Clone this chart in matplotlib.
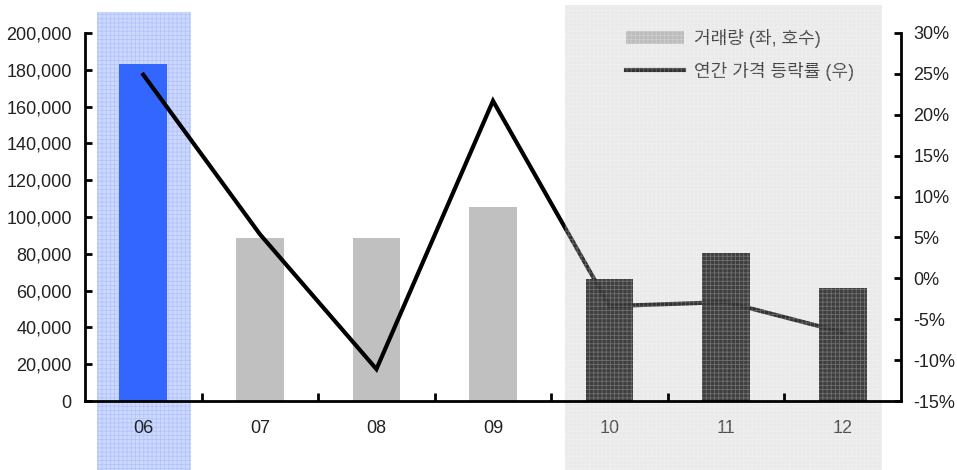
import matplotlib
matplotlib.use("Agg")
import matplotlib.pyplot as plt
from matplotlib.patches import Rectangle, Patch
from matplotlib.lines import Line2D
from matplotlib.ticker import FuncFormatter, FixedLocator, FixedFormatter, NullFormatter

plt.rcParams['font.family'] = ['Liberation Sans', 'Noto Sans CJK KR', 'DejaVu Sans']
plt.rcParams['hatch.linewidth'] = 0.6

# data
years = ["06", "07", "08", "09", "10", "11", "12"]
volume = [183000, 88600, 88500, 105400, 66100, 80300, 61300]      # 거래량 (호수)
price_change = [24.9, 5.4, -11.1, 21.7, -3.4, -2.9, -6.6]          # 연간 가격 등락률 (%)
bar_colors = ["#3366FF", "#C0C0C0", "#C0C0C0", "#C0C0C0", "#111111", "#111111", "#111111"]
left_ticks = [0, 20000, 40000, 60000, 80000, 100000, 120000, 140000, 160000, 180000, 200000]
right_ticks = [-15, -10, -5, 0, 5, 10, 15, 20, 25, 30]
legend_labels = ["거래량 (좌, 호수)", "연간 가격 등락률 (우)"]

W, H = 957, 470
fig = plt.figure(figsize=(W / 100, H / 100), dpi=100)
ax = fig.add_axes([85 / W, 69 / H, (901 - 85) / W, (401 - 33) / H])
ax.patch.set_visible(False)

# highlighted column behind 2006
fig.add_artist(Rectangle((97 / W, 0), 94 / W, (H - 12) / H, transform=fig.transFigure,
                         facecolor="#cdd8fd", edgecolor="#b3c3fb", hatch="++++",
                         linewidth=0, zorder=-5))

x = list(range(len(years)))
ax.bar(x, volume, width=0.41, color=bar_colors, zorder=2)
ax.set_xlim(-0.5, 6.5)
ax.set_ylim(0, 200000)
ax.set_yticks(left_ticks)
ax.yaxis.set_major_formatter(FuncFormatter(lambda v, p: f"{int(v):,}"))

# year labels as minor ticks, category boundaries as major ticks
ax.xaxis.set_minor_locator(FixedLocator(x))
ax.xaxis.set_minor_formatter(FixedFormatter(years))
ax.xaxis.set_major_locator(FixedLocator([i + 0.5 for i in range(6)]))
ax.xaxis.set_major_formatter(NullFormatter())
ax.tick_params(axis="x", which="both", length=0)
ax.tick_params(axis="x", which="minor", pad=14, labelsize=13, labelcolor="#222222")
ax.tick_params(axis="y", direction="in", length=5, width=2, pad=9.5, labelsize=13,
               labelcolor="#222222")

ax2 = ax.twinx()
ax2.plot(x, price_change, color="black", lw=3, solid_joinstyle="miter", zorder=2.2)
ax2.set_ylim(-15, 30)
ax2.set_yticks(right_ticks)
ax2.yaxis.set_major_formatter(FuncFormatter(lambda v, p: f"{int(v)}%"))
ax2.tick_params(axis="y", direction="in", length=5, width=2, pad=9, labelsize=13,
                labelcolor="#222222")

# boundary ticks drawn from the upper axes so they stay above the shading
ax2.xaxis.set_visible(True)
ax2.xaxis.tick_bottom()
ax2.tick_params(axis="x", which="minor", length=0, labelbottom=False)
ax2.tick_params(axis="x", which="major", direction="in", length=6, width=2,
                color="black", labelbottom=False)
ax2.xaxis.set_zorder(2.6)

for a in (ax, ax2):
    a.spines["top"].set_visible(False)
    for s in ("left", "right", "bottom"):
        a.spines[s].set_linewidth(2)
        a.spines[s].set_color("black")
ax.spines["right"].set_visible(False)
ax.spines["bottom"].set_visible(False)
ax2.spines["left"].set_visible(False)

handles = [Patch(facecolor="#C0C0C0", edgecolor="none"),
           Line2D([0], [0], color="black", lw=3)]
leg = ax2.legend(handles, legend_labels, loc="upper left",
                 bbox_to_anchor=(626 / W, 1 - 29 / H), bbox_transform=fig.transFigure,
                 frameon=False, fontsize=13, handlelength=3.2, handleheight=0.75,
                 handletextpad=0.55, labelspacing=0.75, borderpad=0, borderaxespad=0,
                 labelcolor="#111111")
leg.set_zorder(2.3)

# shaded forecast period, laid over bars, line and legend but under the axis lines
shade = Rectangle((565 / W, 0), 317 / W, (H - 5) / H, transform=fig.transFigure,
                  facecolor="#b5b5b5", alpha=0.28, linewidth=0, zorder=2.4)
ax2.add_artist(shade)
shade.set_clip_on(False)
texture = Rectangle((565 / W, 0), 317 / W, (H - 5) / H, transform=fig.transFigure,
                    facecolor="none", edgecolor="#ffffff", alpha=0.25, hatch="++++",
                    linewidth=0, zorder=2.45)
ax2.add_artist(texture)
texture.set_clip_on(False)

fig.savefig("out.png", dpi=100)
